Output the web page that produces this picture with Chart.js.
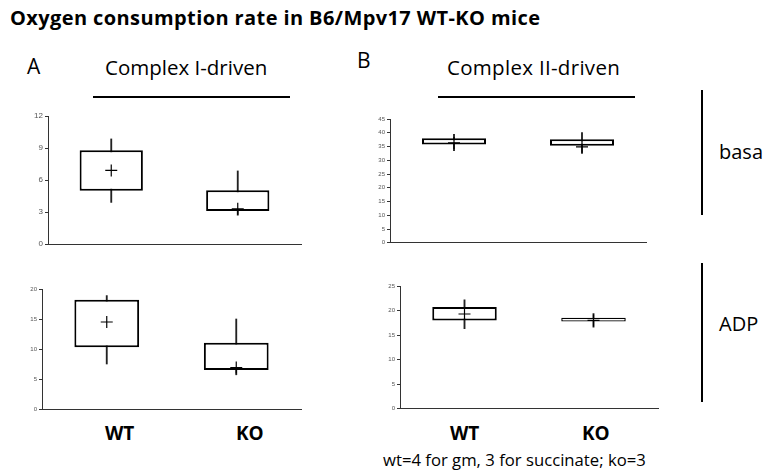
<!DOCTYPE html>
<html>
<head>
<meta charset="utf-8">
<script src="https://cdn.jsdelivr.net/npm/chart.js@4"></script>
<style>
  body { margin: 0; background: #fff; }
  #wrap { position: relative; width: 765px; height: 471px; overflow: hidden; font-family: "Open Sans", "Noto Sans", sans-serif; color: #000; }
  .t { position: absolute; white-space: nowrap; line-height: 1; }
  .hl { position: absolute; height: 2px; background: #000; }
  .vl { position: absolute; width: 2px; background: #000; }
  canvas { position: absolute; }
</style>
</head>
<body>
<div id="wrap">
  <div class="t" style="left:10px;top:8px;font-size:20px;font-weight:700;letter-spacing:0.4px;">Oxygen consumption rate in B6/Mpv17 WT-KO mice</div>
  <div class="t" style="left:27px;top:56px;font-size:21px;">A</div>
  <div class="t" style="left:105px;top:57px;font-size:20.5px;">Complex I-driven</div>
  <div class="hl" style="left:93px;top:96px;width:197px;"></div>
  <div class="t" style="left:357px;top:50px;font-size:21px;">B</div>
  <div class="t" style="left:447px;top:57px;font-size:20.5px;letter-spacing:0.3px;">Complex II-driven</div>
  <div class="hl" style="left:438px;top:96px;width:197px;"></div>
  <div class="vl" style="left:701px;top:90px;height:125px;"></div>
  <div class="vl" style="left:701px;top:263px;height:139px;"></div>
  <div class="t" style="left:719px;top:142px;font-size:20px;">basa</div>
  <div class="t" style="left:719px;top:314px;font-size:20px;">ADP</div>
  <div class="t" style="left:105px;top:424px;font-size:19px;font-weight:700;">WT</div>
  <div class="t" style="left:236px;top:424px;font-size:19px;font-weight:700;">KO</div>
  <div class="t" style="left:450px;top:424px;font-size:19px;font-weight:700;">WT</div>
  <div class="t" style="left:582px;top:424px;font-size:19px;font-weight:700;">KO</div>
  <div class="t" style="left:383px;top:452px;font-size:16.7px;">wt=4 for gm, 3 for succinate; ko=3</div>

  <canvas id="a1" width="310" height="150" style="left:0px;top:104px;"></canvas>
  <canvas id="a2" width="310" height="140" style="left:0px;top:277px;"></canvas>
  <canvas id="b1" width="310" height="140" style="left:350px;top:110px;"></canvas>
  <canvas id="b2" width="310" height="140" style="left:360px;top:276px;"></canvas>
</div>
<script>
const groups = ["WT", "KO"];

// Complex I-driven, basal
const a1Min = [3.9, 2.7];
const a1Q1 = [5.0, 3.1];
const a1Q3 = [8.8, 5.05];
const a1Max = [9.85, 6.85];
const a1Mean = [6.9, 3.3];

// Complex I-driven, ADP
const a2Min = [7.5, 5.7];
const a2Q1 = [10.3, 6.5];
const a2Q3 = [18.2, 11.05];
const a2Max = [18.9, 15.0];
const a2Mean = [14.5, 6.9];

// Complex II-driven, basal
const b1Min = [33.5, 32.5];
const b1Q1 = [35.7, 35.3];
const b1Q3 = [38.0, 37.6];
const b1Max = [39.4, 40.1];
const b1Mean = [36.3, 34.9];

// Complex II-driven, ADP
const b2Min = [16.3, 16.6];
const b2Q1 = [18.0, 17.75];
const b2Q3 = [20.7, 18.55];
const b2Max = [22.2, 19.4];
const b2Mean = [19.3, 18.0];

function boxChart(id, mins, q1, q3, maxs, means, yMax, step, fontSize, pad, axisW, boxLine) {
  const ctx = document.getElementById(id).getContext("2d");
  return new Chart(ctx, {
    type: "bar",
    data: {
      labels: groups,
      datasets: [
        {
          // whiskers
          data: mins.map((v, i) => [v, maxs[i]]),
          backgroundColor: "#222",
          borderWidth: 0,
          barThickness: 1.2,
          grouped: false,
          order: 3,
        },
        {
          // boxes
          data: q1.map((v, i) => [v, q3[i]]),
          backgroundColor: "#fff",
          borderColor: "#000",
          borderWidth: boxLine,
          borderSkipped: false,
          barPercentage: 0.5,
          categoryPercentage: 1,
          grouped: false,
          order: 2,
        },
        {
          type: "line",
          data: means,
          showLine: false,
          pointStyle: "cross",
          pointRadius: 6,
          pointBorderWidth: 1.2,
          borderColor: "#000",
          order: 1,
        },
      ],
    },
    options: {
      responsive: false,
      animation: false,
      layout: { padding: pad },
      plugins: { legend: { display: false }, tooltip: { enabled: false } },
      scales: {
        x: {
          ticks: { display: false },
          grid: { display: false },
          border: { color: "#333", width: 1 },
          afterFit: (s) => { s.height = 0; },
        },
        y: {
          min: 0,
          max: yMax,
          ticks: {
            stepSize: step,
            padding: 2,
            color: "#555",
            font: { family: "Liberation Sans", size: fontSize },
          },
          grid: { drawOnChartArea: false, drawTicks: true, tickLength: 3, color: "#333" },
          border: { color: "#333", width: 1 },
          afterFit: (s) => { s.width = axisW; },
        },
      },
    },
  });
}

boxChart("a1", a1Min, a1Q1, a1Q3, a1Max, a1Mean, 12, 3, 8, { left: 8, right: 9, top: 12, bottom: 10 }, 40, 2);
boxChart("a2", a2Min, a2Q1, a2Q3, a2Max, a2Mean, 20, 5, 6, { left: 8, right: 9, top: 12, bottom: 8 }, 34, 2);
boxChart("b1", b1Min, b1Q1, b1Q3, b1Max, b1Mean, 45, 5, 6, { left: 8, right: 14, top: 9, bottom: 7 }, 32, 2);
boxChart("b2", b2Min, b2Q1, b2Q3, b2Max, b2Mean, 25, 5, 6, { left: 8, right: 12, top: 10, bottom: 7 }, 32, [2, 1.4]);
</script>
</body>
</html>
